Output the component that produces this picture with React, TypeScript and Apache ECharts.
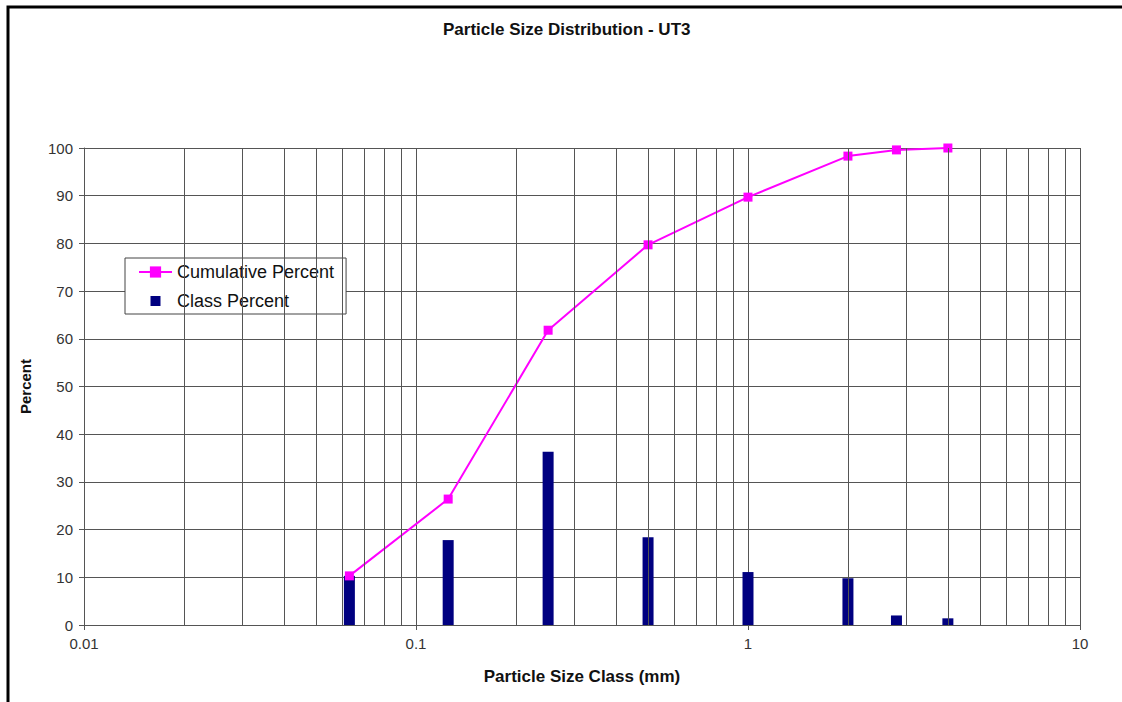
import React, { useEffect, useRef } from "react";
import * as echarts from "echarts";

const sizes = [0.063, 0.125, 0.25, 0.5, 1, 2, 2.8, 4];
const cumulativePercent = [10.3, 26.4, 61.8, 79.7, 89.7, 98.3, 99.6, 100];
const classPercent = [10.3, 17.8, 36.3, 18.4, 11.1, 9.8, 2.0, 1.4];
const minorGridValues = [
  0.02, 0.03, 0.04, 0.05, 0.06, 0.07, 0.08, 0.09,
  0.2, 0.3, 0.4, 0.5, 0.6, 0.7, 0.8, 0.9,
  2, 3, 4, 5, 6, 7, 8, 9,
];
const titleText = "Particle Size Distribution - UT3";
const xAxisName = "Particle Size Class (mm)";
const yAxisName = "Percent";

const FONT = "'Liberation Sans', Arial, sans-serif";
const GRID_COLOR = "#555555";

export default function App() {
  const ref = useRef<HTMLDivElement>(null);

  useEffect(() => {
    if (!ref.current) return;
    const chart = echarts.init(ref.current, null, { renderer: "svg" });

    const option: any = {
      animation: false,
      backgroundColor: "#ffffff",
      textStyle: { fontFamily: FONT },
      title: {
        text: titleText,
        left: 438,
        top: 16,
        textStyle: { fontFamily: FONT, fontSize: 17, fontWeight: "bold", color: "#111" },
      },
      grid: { left: 84, right: 42, top: 148, bottom: 77, containLabel: false },
      legend: {
        orient: "vertical",
        left: 125,
        top: 258,
        padding: [5, 12, 4, 13],
        itemGap: 11,
        itemWidth: 33,
        itemHeight: 14,
        backgroundColor: "#ffffff",
        borderColor: "#444",
        borderWidth: 1,
        borderRadius: 0,
        textStyle: { fontFamily: FONT, fontSize: 18, color: "#111", lineHeight: 18 },
        data: [
          { name: "Cumulative Percent" },
          { name: "Class Percent", icon: "path://M0,0 M33,14 M11.5,2h10v10h-10z" },
        ],
      },
      xAxis: {
        type: "log",
        logBase: 10,
        min: 0.01,
        max: 10,
        name: xAxisName,
        nameLocation: "middle",
        nameGap: 43,
        nameTextStyle: { fontFamily: FONT, fontSize: 17, fontWeight: "bold", color: "#111" },
        axisLine: { show: true, onZero: false, lineStyle: { color: GRID_COLOR, width: 1 } },
        axisTick: { show: true, length: 5, lineStyle: { color: GRID_COLOR } },
        axisLabel: {
          fontFamily: FONT,
          fontSize: 15,
          color: "#333",
          margin: 11,
          formatter: (v: number) => String(v),
        },
        splitLine: { show: true, lineStyle: { color: GRID_COLOR, width: 1 } },
      },
      yAxis: {
        type: "value",
        min: 0,
        max: 100,
        interval: 10,
        name: yAxisName,
        nameLocation: "middle",
        nameRotate: 90,
        nameGap: 51,
        nameTextStyle: { fontFamily: FONT, fontSize: 15, fontWeight: "bold", color: "#111" },
        axisLine: { show: true, lineStyle: { color: GRID_COLOR, width: 1 } },
        axisTick: { show: true, length: 5, lineStyle: { color: GRID_COLOR } },
        axisLabel: { fontFamily: FONT, fontSize: 15, color: "#333", margin: 11 },
        splitLine: { show: true, lineStyle: { color: GRID_COLOR, width: 1 } },
      },
      graphic: [
        {
          type: "polyline",
          silent: true,
          z: 100,
          shape: { points: [[8, 702], [8, 7], [1122, 7]] },
          style: { stroke: "#000", lineWidth: 3, fill: null },
        },
      ],
      series: [
        {
          name: "minor-grid",
          type: "line",
          data: [],
          silent: true,
          z: 1,
          markLine: {
            silent: true,
            symbol: ["none", "none"],
            label: { show: false },
            lineStyle: { color: GRID_COLOR, width: 1, type: "solid" },
            emphasis: { disabled: true },
            data: minorGridValues.map((v) => ({ xAxis: v })),
          },
        },
        {
          name: "Class Percent",
          type: "custom",
          z: 3,
          itemStyle: { color: "#000080" },
          data: sizes.map((s, i) => [s, classPercent[i]]),
          renderItem: (params: any, api: any) => {
            const x = api.value(0);
            const y = api.value(1);
            const top = api.coord([x, y]);
            const base = api.coord([x, 0]);
            return {
              type: "rect",
              shape: { x: top[0] - 5.5, y: top[1], width: 11, height: base[1] - top[1] },
              style: { fill: "#000080" },
            };
          },
        },
        {
          name: "Cumulative Percent",
          type: "line",
          z: 4,
          data: sizes.map((s, i) => [s, cumulativePercent[i]]),
          symbol: "rect",
          symbolSize: 9,
          lineStyle: { color: "#ff00ff", width: 2 },
          itemStyle: { color: "#ff00ff" },
        },
      ],
    };

    chart.setOption(option);
    return () => chart.dispose();
  }, []);

  return (
    <div
      ref={ref}
      style={{ position: "absolute", left: 0, top: 0, width: 1122, height: 702 }}
    />
  );
}
